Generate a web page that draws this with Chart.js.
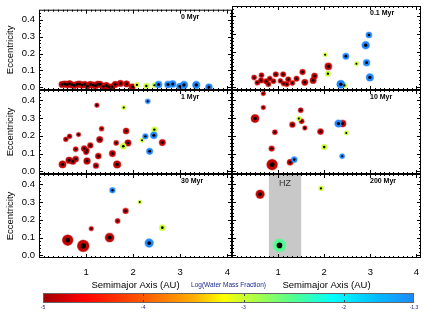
<!DOCTYPE html>
<html>
<head>
<meta charset="utf-8">
<script src="https://cdn.jsdelivr.net/npm/chart.js@4.4.1/dist/chart.umd.min.js"></script>
<style>
body { margin: 0; background: #fff; }
#wrap { position: relative; width: 436px; height: 312px; }
#wrap canvas { position: absolute; left: 0; }
</style>
</head>
<body>
<div id="wrap"></div>
<script>
// ---- data ----
const timeLabels = ['0 Myr', '0.1 Myr', '1 Myr', '10 Myr', '30 Myr', '200 Myr'];

// water values: dry (red) -4.85, yellow-green -3, blue -1.3, green -2.5
const semi_0 = [0.49,0.55,0.60,0.65,0.70,0.75,0.81,0.86,0.91,0.97,1.03,1.09,1.15,1.20,1.25,1.30,1.37,1.43,1.48,1.55,1.62,1.73,1.86,1.98, 2.08,2.28,2.45, 2.54,2.74,2.84,2.99,3.08,3.34,3.61];
const ecc_0 = [0.018,0.02,0.016,0.022,0.015,0.012,0.018,0.02,0.014,0.018,0.008,0.018,0.014,0.01,0.019,0.018,0.005,0.012,0.003,0.003,0.018,0.024,0.021,0.003, 0.015,0.009,0.013, 0.017,0.017,0.021,0.006,0.015,0.015,0.002];
const mass_0 = [0.12,0.12,0.12,0.12,0.12,0.12,0.12,0.12,0.12,0.12,0.12,0.12,0.12,0.12,0.12,0.12,0.12,0.12,0.12,0.12,0.12,0.12,0.12,0.12, 0.06,0.08,0.06, 0.15,0.15,0.15,0.12,0.2,0.2,0.15];
const water_0 = [-4.85,-4.85,-4.85,-4.85,-4.85,-4.85,-4.85,-4.85,-4.85,-4.85,-4.85,-4.85,-4.85,-4.85,-4.85,-4.85,-4.85,-4.85,-4.85,-4.85,-4.85,-4.85,-4.85,-4.85, -3,-3,-3, -1.3,-1.3,-1.3,-1.3,-1.3,-1.3,-1.3];

const semi_1 = [0.48,0.55,0.64,0.63,0.74,0.82,0.79,0.90,0.95,1.05,1.11,1.12,1.19,1.22,1.31,1.40,1.53,1.58,1.76,1.79,2.09, 2.02,2.08,2.70,2.44, 2.36,2.47,2.90,2.97,2.92,2.99];
const ecc_1 = [0.055,0.026,0.068,0.039,0.034,0.049,0.017,0.034,0.073,0.036,0.073,0.021,0.017,0.045,0.024,0.049,0.086,0.028,0.039,0.064,0.118, 0.184,0.077,0.133,0.011, 0.017,0.175,0.237,0.295,0.139,0.056];
const mass_1 = [0.06,0.06,0.06,0.07,0.07,0.06,0.06,0.06,0.07,0.05,0.07,0.06,0.06,0.07,0.06,0.07,0.08,0.12,0.12,0.1,0.16, 0.03,0.07,0.04,0.06, 0.25,0.12,0.22,0.1,0.14,0.2];
const water_1 = [-4.85,-4.85,-4.85,-4.85,-4.85,-4.85,-4.85,-4.85,-4.85,-4.85,-4.85,-4.85,-4.85,-4.85,-4.85,-4.85,-4.85,-4.85,-4.85,-4.85,-4.85, -3,-3,-3,-3, -1.3,-1.3,-1.3,-1.3,-1.3,-1.3];

const semi_2 = [0.50,0.57,0.65,0.64,0.72,0.78,0.78,0.84,0.96,1.00,1.02,1.02,1.09,1.21,1.23,1.26,1.29,1.33,1.56,1.64,1.66,1.85,1.89,2.62, 1.80,1.79,2.19,2.45, 2.31,2.26,2.44,2.35];
const ecc_2 = [0.039,0.18,0.197,0.062,0.056,0.069,0.124,0.207,0.128,0.107,0.118,0.058,0.146,0.032,0.372,0.086,0.179,0.24,0.10,0.16,0.039,0.227,0.16,0.162, 0.359,0.141,0.175,0.235, 0.394,0.197,0.203,0.113];
const mass_2 = [0.18,0.05,0.05,0.14,0.1,0.1,0.06,0.04,0.1,0.06,0.05,0.14,0.08,0.08,0.04,0.1,0.12,0.05,0.12,0.06,0.2,0.1,0.12,0.12, 0.04,0.1,0.03,0.08, 0.06,0.08,0.15,0.12];
const water_2 = [-4.85,-4.85,-4.85,-4.85,-4.85,-4.85,-4.85,-4.85,-4.85,-4.85,-4.85,-4.85,-4.85,-4.85,-4.85,-4.85,-4.85,-4.85,-4.85,-4.85,-4.85,-4.85,-4.85,-4.85, -3,-3,-3,-3, -1.3,-1.3,-1.3,-1.3];

const semi_3 = [0.68,0.68,0.50,0.93,1.31,1.49,1.51,1.58,1.92,2.40,0.86,0.87,1.26, 1.45,2.48,2.00, 1.35,2.31,2.39];
const ecc_3 = [0.438,0.359,0.297,0.22,0.263,0.344,0.282,0.244,0.224,0.269,0.128,0.038,0.051, 0.297,0.216,0.137, 0.066,0.269,0.085];
const mass_3 = [0.04,0.04,0.25,0.06,0.08,0.06,0.06,0.04,0.1,0.15,0.08,0.6,0.1, 0.05,0.04,0.08, 0.1,0.2,0.06];
const water_3 = [-4.85,-4.85,-4.85,-4.85,-4.85,-4.85,-4.85,-4.85,-4.85,-4.85,-4.85,-4.85,-4.85, -3,-3,-3, -1.3,-1.3,-1.3];

const semi_4 = [0.61,0.94,1.11,1.50,1.67,1.84, 2.14,2.62, 1.56,2.34];
const ecc_4 = [0.086,0.053,0.15,0.10,0.193,0.25, 0.30,0.156, 0.366,0.069];
const mass_4 = [0.6,0.8,0.04,0.35,0.06,0.08, 0.03,0.1, 0.08,0.3];
const water_4 = [-4.85,-4.85,-4.85,-4.85,-4.85,-4.85, -3,-3, -1.3,-1.3];

const semi_5 = [0.61,1.93,1.03];
const ecc_5 = [0.344,0.377,0.056];
const mass_5 = [0.3,0.05,1.0];
const water_5 = [-4.85,-3,-2.5];

const xTicks = [1, 2, 3, 4];
const yTicks = [0, 0.1, 0.2, 0.3, 0.4];
const waterTicks = [-5, -4, -3, -2, -1.3];
const hzRange = [0.8, 1.5];

// colour table of the bar
const waterStops = [-5, -4.6, -4, -3.5, -3.2, -3, -2.5, -2.1, -1.7, -1.3];
const waterColors = ['#a00000','#ff0000','#ff5a00','#ffae00','#ffff00','#c8ff30','#50ff90','#00ffff','#00c0ff','#1e88ff'];

Chart.defaults.font.family = "'Liberation Sans', Arial, Helvetica, sans-serif";
Chart.defaults.color = '#000';

function hexRgb(h) {
  return [parseInt(h.slice(1,3),16), parseInt(h.slice(3,5),16), parseInt(h.slice(5,7),16)];
}
function waterRgb(w) {
  let i = 0;
  while (i < waterStops.length - 2 && w > waterStops[i+1]) i++;
  const t = Math.min(1, Math.max(0, (w - waterStops[i]) / (waterStops[i+1] - waterStops[i])));
  const a = hexRgb(waterColors[i]), b = hexRgb(waterColors[i+1]);
  return a.map((c, k) => Math.round(c + (b[k] - c) * t));
}

const panels = [
  {a: semi_0, e: ecc_0, m: mass_0, w: water_0},
  {a: semi_1, e: ecc_1, m: mass_1, w: water_1},
  {a: semi_2, e: ecc_2, m: mass_2, w: water_2},
  {a: semi_3, e: ecc_3, m: mass_3, w: water_3},
  {a: semi_4, e: ecc_4, m: mass_4, w: water_4},
  {a: semi_5, e: ecc_5, m: mass_5, w: water_5},
];

const colEdges = [[39, 232], [232, 421]];
const rowEdges = [[6, 90], [90, 174], [174, 258]];

// box with inward IDL-like ticks
const frameTicks = {
  id: 'frameTicks',
  afterDraw(chart) {
    const {ctx, chartArea: ca, scales: {x, y}} = chart;
    ctx.save();
    ctx.strokeStyle = '#000';
    ctx.lineWidth = 1;
    ctx.beginPath();
    for (let k = 1; k < 41; k++) {
      const px = Math.round(x.getPixelForValue(k / 10)) + 0.5;
      const len = k % 10 === 0 ? 4 : 2;
      ctx.moveTo(px, ca.bottom); ctx.lineTo(px, ca.bottom - len);
      ctx.moveTo(px, ca.top); ctx.lineTo(px, ca.top + len);
    }
    for (let k = 0; k <= 22; k++) {
      const py = Math.round(y.getPixelForValue(k * 0.02)) + 0.5;
      const len = k % 5 === 0 ? 4 : 2;
      ctx.moveTo(ca.left, py); ctx.lineTo(ca.left + len, py);
      ctx.moveTo(ca.right, py); ctx.lineTo(ca.right - len, py);
    }
    ctx.stroke();
    ctx.strokeRect(ca.left + 0.5, ca.top + 0.5, ca.width - 1, ca.height - 1);
    ctx.restore();
  }
};

const panelDecor = {
  id: 'panelDecor',
  beforeDatasetsDraw(chart, args, opts) {
    if (!opts.hz) return;
    const {ctx, chartArea: ca, scales: {x}} = chart;
    const x0 = x.getPixelForValue(hzRange[0]), x1 = x.getPixelForValue(hzRange[1]);
    ctx.save();
    ctx.fillStyle = '#c8c8c8';
    ctx.fillRect(x0, ca.top, x1 - x0, ca.height);
    ctx.fillStyle = '#333';
    ctx.font = "9px 'Liberation Sans', Arial, sans-serif";
    ctx.textAlign = 'center';
    ctx.textBaseline = 'middle';
    ctx.fillText('HZ', (x0 + x1) / 2, ca.top + 10);
    ctx.restore();
  },
  afterDraw(chart, args, opts) {
    const {ctx, chartArea: ca} = chart;
    ctx.save();
    ctx.fillStyle = '#000';
    ctx.font = "bold 7px 'Liberation Sans', Arial, sans-serif";
    ctx.textAlign = 'left';
    ctx.textBaseline = 'middle';
    ctx.fillText(opts.label, ca.right - 51, ca.top + 7);
    ctx.restore();
  }
};

const wrap = document.getElementById('wrap');

panels.forEach((p, i) => {
  const col = i % 2, row = Math.floor(i / 2);
  const isLeft = col === 0, isBottom = row === 2;
  const cv = document.createElement('canvas');
  cv.width = 436; cv.height = 312; cv.style.top = '0px';
  wrap.appendChild(cv);

  const pts = p.a.map((a, k) => ({x: a, y: p.e[k]}));
  const outerR = p.m.map(m => 6.3 * Math.cbrt(m));
  const innerR = outerR.map(r => Math.max(1, r * 0.45));
  const rgb = p.w.map(waterRgb);
  const fill = rgb.map(c => `rgb(${c[0]},${c[1]},${c[2]})`);
  const halo = rgb.map(c => `rgba(${c[0]},${c[1]},${c[2]},0.45)`);

  new Chart(cv, {
    type: 'scatter',
    data: {
      datasets: [
        { data: pts, order: 1, clip: false, pointRadius: outerR, pointHoverRadius: outerR,
          pointBackgroundColor: fill, pointBorderColor: halo, pointBorderWidth: 1.2 },
        { data: pts, order: 0, clip: false, pointRadius: innerR, pointHoverRadius: innerR,
          pointBackgroundColor: '#000', pointBorderWidth: 0 }
      ]
    },
    options: {
      responsive: false,
      animation: false,
      events: [],
      layout: {
        padding: {
          left: isLeft ? 0 : colEdges[1][0],
          right: 436 - colEdges[col][1],
          top: rowEdges[row][0],
          bottom: isBottom ? 312 - rowEdges[row][1] - 34 : 312 - rowEdges[row][1]
        }
      },
      plugins: {
        legend: {display: false},
        tooltip: {enabled: false},
        panelDecor: {label: timeLabels[i], hz: i === 5}
      },
      scales: {
        x: {
          type: 'linear', min: 0, max: 4.1, display: isBottom,
          grid: {display: false, drawTicks: false},
          border: {display: false},
          afterBuildTicks: s => { s.ticks = xTicks.map(v => ({value: v})); },
          afterFit: s => { if (isBottom) s.height = 34; },
          ticks: {font: {size: 9.5}, color: '#000', padding: 8.5, maxRotation: 0, callback: v => String(v)},
          title: {display: true, text: 'Semimajor Axis (AU)', font: {size: 9.5}, color: '#000',
                  padding: {top: 0, bottom: 1.3}}
        },
        y: {
          type: 'linear', min: -0.015, max: 0.458, display: isLeft,
          grid: {display: false, drawTicks: false},
          border: {display: false},
          afterBuildTicks: s => { s.ticks = yTicks.map(v => ({value: v})); },
          afterFit: s => { if (isLeft) s.width = 39; },
          ticks: {font: {size: 9.5}, color: '#000', padding: 4, callback: v => v.toFixed(1)},
          title: {display: true, text: 'Eccentricity', font: {size: 9.5}, color: '#000',
                  padding: {top: 5, bottom: 0}}
        }
      }
    },
    plugins: [frameTicks, panelDecor]
  });
});

// ---- colour bar ----
const colorbarFill = {
  id: 'colorbarFill',
  beforeDatasetsDraw(chart) {
    const {ctx, chartArea: ca, scales: {x}} = chart;
    const g = ctx.createLinearGradient(ca.left, 0, ca.right, 0);
    waterStops.forEach((v, k) => g.addColorStop((x.getPixelForValue(v) - ca.left) / ca.width, waterColors[k]));
    ctx.save();
    ctx.fillStyle = g;
    ctx.fillRect(ca.left, ca.top, ca.width, ca.height);
    ctx.strokeStyle = '#444';
    ctx.lineWidth = 1;
    ctx.beginPath();
    waterTicks.slice(1, -1).forEach(v => {
      const px = Math.round(x.getPixelForValue(v)) + 0.5;
      ctx.moveTo(px, ca.top); ctx.lineTo(px, ca.top + 3);
      ctx.moveTo(px, ca.bottom); ctx.lineTo(px, ca.bottom - 3);
    });
    ctx.stroke();
    ctx.strokeStyle = '#666';
    ctx.strokeRect(ca.left + 0.5, ca.top + 0.5, ca.width - 1, ca.height - 1);
    ctx.restore();
  }
};

const cb = document.createElement('canvas');
cb.width = 436; cb.height = 33; cb.style.top = '279px';
wrap.appendChild(cb);

new Chart(cb, {
  type: 'scatter',
  data: {datasets: []},
  options: {
    responsive: false,
    animation: false,
    events: [],
    layout: {padding: {left: 43, right: 22, top: 0, bottom: 0}},
    plugins: {
      legend: {display: false},
      tooltip: {enabled: false},
      title: {display: true, text: 'Log(Water Mass Fraction)', color: '#1c2a8c',
              font: {size: 6.5, weight: 'normal'}, padding: {top: 2, bottom: 4.2}}
    },
    scales: {
      x: {
        type: 'linear', min: -5, max: -1.3,
        grid: {display: false, drawTicks: false},
        border: {display: false},
        afterBuildTicks: s => { s.ticks = waterTicks.map(v => ({value: v})); },
        afterFit: s => { s.height = 9; },
        ticks: {font: {size: 5}, color: '#22229a', padding: 2, maxRotation: 0, callback: v => String(v)}
      },
      y: {display: false, min: 0, max: 1}
    }
  },
  plugins: [colorbarFill]
});
</script>
</body>
</html>
